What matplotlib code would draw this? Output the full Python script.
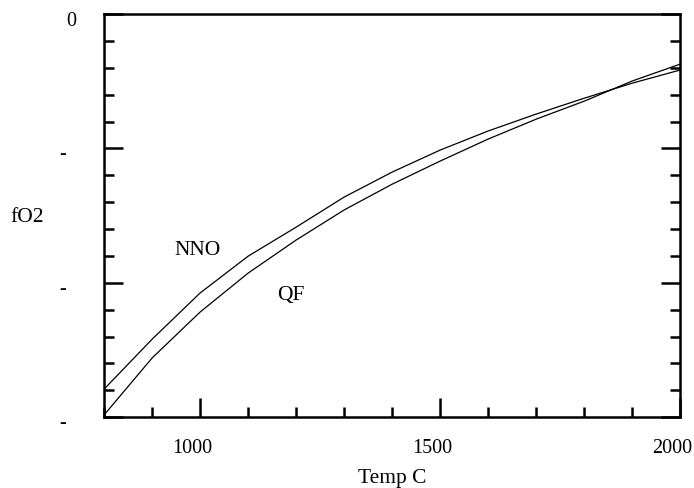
import numpy as np
import matplotlib.pyplot as plt
from matplotlib.ticker import MultipleLocator
import matplotlib.transforms as mtransforms

plt.rcParams['font.family'] = ['Liberation Serif', 'DejaVu Serif']

# Datos: temperatura (C) y log fO2 de los buffers
temp = [800, 900, 1000, 1100, 1200, 1300, 1400, 1500, 1600, 1700, 1800, 1900, 2000]
nno = [-13.96, -12.10, -10.38, -9.01, -7.93, -6.81, -5.88, -5.06, -4.35, -3.72, -3.13, -2.57, -2.08]
qf = [-14.92, -12.80, -11.09, -9.64, -8.41, -7.29, -6.33, -5.47, -4.65, -3.91, -3.24, -2.49, -1.86]

ytick_vals = [0, -5, -10, -15]
ytick_txt = ['0', '-', '-', '-']
xtick_vals = [1000, 1500, 2000]

fig = plt.figure(figsize=(6.94, 4.89), dpi=100)
ax = fig.add_axes([0.150, 0.145, 0.830, 0.824])

ax.plot(temp, nno, color='black', lw=0.9)
ax.plot(temp, qf, color='black', lw=0.9)

ax.set_xlim(800, 2000)
ax.set_ylim(-15, 0)

# ejes y marcas
for s in ax.spines.values():
    s.set_linewidth(1.8)
ax.xaxis.set_major_locator(MultipleLocator(500))
ax.xaxis.set_minor_locator(MultipleLocator(100))
ax.yaxis.set_major_locator(MultipleLocator(5))
ax.yaxis.set_minor_locator(MultipleLocator(1))
ax.tick_params(which='both', direction='in', top=False, right=True, width=1.8)
ax.tick_params(which='major', length=14)
ax.tick_params(which='minor', length=7)
ax.tick_params(axis='x', which='major', pad=15, labelsize=14.5)
ax.set_xticks(xtick_vals)
ax.set_yticklabels([])

# las etiquetas del eje x van un poco a la izquierda
shift = mtransforms.ScaledTranslation(-8 / 100, 0, fig.dpi_scale_trans)
for lab in ax.get_xticklabels():
    lab.set_transform(lab.get_transform() + shift)

# etiquetas del eje y a mano
trans = mtransforms.blended_transform_factory(fig.transFigure, ax.transData)
for v, t in zip(ytick_vals, ytick_txt):
    if t == '0':
        ax.text(71.5 / 694, v - 0.25, t, transform=trans, ha='center', va='center', fontsize=14.5)
    else:
        ax.text(63 / 694, v - 0.2, t, transform=trans, ha='center', va='center', fontsize=14.5)

fig.text(392 / 694, 1 - 479 / 489, 'Temp C', ha='center', va='center', fontsize=15.5)
fig.text(27 / 694, 1 - 218 / 489, 'fO2', ha='center', va='center', fontsize=15.5)

ax.text(994, -8.75, 'NNO', ha='center', va='center', fontsize=15.5)
ax.text(1190, -10.42, 'QF', ha='center', va='center', fontsize=15.5)

fig.savefig('out.png', dpi=100)
